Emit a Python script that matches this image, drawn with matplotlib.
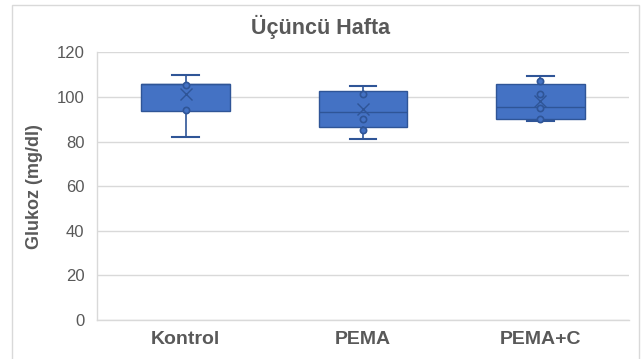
import matplotlib
matplotlib.use('Agg')
import matplotlib.pyplot as plt
from matplotlib.patches import Rectangle

plt.rcParams['font.family'] = ['Liberation Sans', 'DejaVu Sans']

# Weekly glucose summary per group (mg/dl)
groups = ['Kontrol', 'PEMA', 'PEMA+C']
whisker_low = [82.1, 81.0, 89.2]
q1 = [93.9, 86.4, 90.1]
median = [106.0, 93.1, 95.6]
q3 = [106.0, 102.7, 105.7]
whisker_high = [110.0, 105.1, 109.3]
means = [101.3, 94.5, 98.3]
inner_points = [[94.0, 105.4], [85.2, 90.3, 101.2], [90.3, 95.2, 101.3, 107.2]]
y_ticks = [0, 20, 40, 60, 80, 100, 120]

box_fill = '#4472C4'
box_edge = '#2F5597'
text_gray = '#595959'
grid_gray = '#D9D9D9'

fig = plt.figure(figsize=(6.41, 3.59), dpi=100)
ax = fig.add_axes([0.1513, 0.1086, 0.83, 0.7457])

# outer chart border
fig.patches.append(Rectangle((12 / 641, -0.02), 627 / 641, 1 - 5 / 359 + 0.02,
                             transform=fig.transFigure, fill=False,
                             edgecolor=grid_gray, linewidth=1))

stats = []
for i, name in enumerate(groups):
    stats.append(dict(label=name, whislo=whisker_low[i], q1=q1[i], med=median[i],
                      q3=q3[i], whishi=whisker_high[i], mean=means[i], fliers=[]))

positions = list(range(len(groups)))
ax.bxp(stats, positions=positions, widths=0.5, capwidths=0.15, patch_artist=True,
       showmeans=True, showfliers=False,
       boxprops=dict(facecolor=box_fill, edgecolor=box_edge, linewidth=1),
       medianprops=dict(color=box_edge, linewidth=1),
       whiskerprops=dict(color=box_edge, linewidth=1.2),
       capprops=dict(color=box_edge, linewidth=1.5),
       meanprops=dict(marker='x', markeredgecolor=box_edge, markersize=9,
                      markeredgewidth=1.0))

for i, pts in enumerate(inner_points):
    ax.plot([positions[i]] * len(pts), pts, linestyle='none', marker='o',
            markersize=4.5, markerfacecolor=box_fill, markeredgecolor=box_edge,
            markeredgewidth=1.2, zorder=4)

ax.set_xlim(-0.5, 2.5)
ax.set_ylim(0, 120)
ax.set_yticks(y_ticks)
ax.set_xticks(positions)
ax.set_xticklabels(groups, fontsize=14, fontweight='bold', color=text_gray)
ax.tick_params(axis='y', labelsize=12, colors=text_gray, length=0, pad=9)
ax.tick_params(axis='x', length=0, pad=8)

ax.yaxis.grid(True, color=grid_gray, linewidth=1)
ax.set_axisbelow(True)
for side in ['top', 'right']:
    ax.spines[side].set_visible(False)
for side in ['left', 'bottom']:
    ax.spines[side].set_color(grid_gray)
    ax.spines[side].set_linewidth(1)

ax.set_ylabel('Glukoz (mg/dl)', fontsize=13, fontweight='bold', color=text_gray,
              labelpad=10)
fig.text(0.5, 1 - 27 / 359, 'Üçüncü Hafta', ha='center', va='center',
         fontsize=15.5, fontweight='bold', color=text_gray)

fig.savefig('out.png', dpi=100)
